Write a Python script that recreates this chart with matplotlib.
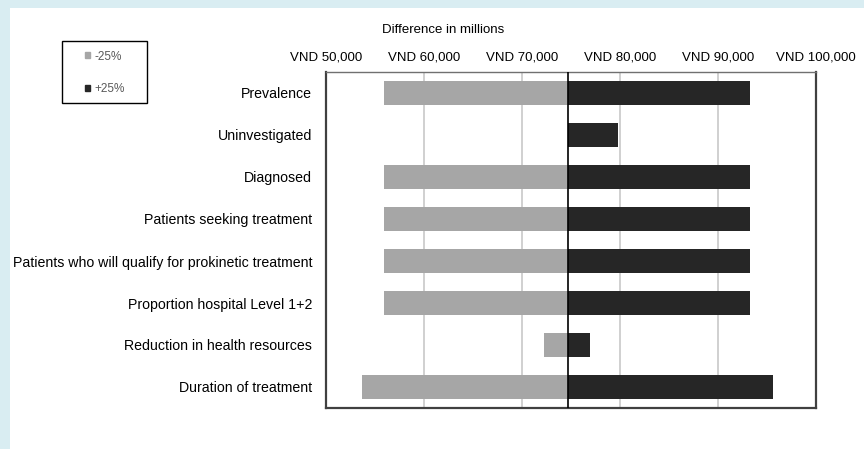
import matplotlib.pyplot as plt
from matplotlib.patches import Rectangle, Patch

# --- data ---
categories = [
    "Prevalence",
    "Uninvestigated",
    "Diagnosed",
    "Patients seeking treatment",
    "Patients who will qualify for prokinetic treatment",
    "Proportion hospital Level 1+2",
    "Reduction in health resources",
    "Duration of treatment",
]
base_value = 74660  # base case result
low_values = [55950, 74660, 55950, 55950, 55950, 55950, 72280, 53640]    # -25%
high_values = [93300, 79830, 93300, 93300, 93300, 93300, 76970, 95610]   # +25%
tick_values = [50000, 60000, 70000, 80000, 90000, 100000]
tick_labels = ["VND 50,000", "VND 60,000", "VND 70,000",
               "VND 80,000", "VND 90,000", "VND 100,000"]

gray = "#a6a6a6"
dark = "#262626"

plt.rcParams["font.family"] = ["Liberation Sans", "DejaVu Sans"]

fig = plt.figure(figsize=(8.64, 4.49), dpi=100)
fig.patch.set_facecolor("#d9edf2")
# white panel inside the light-blue frame (drawn below the axes)
fig.patches.append(Rectangle((10 / 864, 0), 1 - 10 / 864, 1 - 8 / 449,
                             transform=fig.transFigure, facecolor="white",
                             edgecolor="none", zorder=-5))

ax = fig.add_axes([326 / 864, 1 - 408 / 449, 490 / 864, 336 / 449])

y = list(range(len(categories)))
low_w = [base_value - v for v in low_values]
high_w = [v - base_value for v in high_values]
ax.barh(y, low_w, left=low_values, height=0.57, color=gray, zorder=2)
ax.barh(y, high_w, left=base_value, height=0.57, color=dark, zorder=2)
ax.axvline(base_value, color="black", lw=1.2, zorder=3)

ax.set_xlim(50000, 100000)
ax.set_ylim(len(categories) - 0.5, -0.5)
ax.set_yticks(y)
ax.set_yticklabels(categories, fontsize=10.2)
ax.tick_params(axis="y", length=0, pad=10)

ax.xaxis.tick_top()
ax.set_xticks(tick_values)
ax.set_xticklabels(tick_labels, fontsize=9.5)
ax.tick_params(axis="x", length=0, pad=6)
for v in tick_values[1:-1]:
    ax.axvline(v, color="#c8c8c8", lw=1.2, zorder=1)

for side in ["left", "bottom", "right"]:
    ax.spines[side].set_color("#404040")
    ax.spines[side].set_linewidth(1.6)
ax.spines["top"].set_color("#707070")
ax.spines["top"].set_linewidth(1.0)

fig.text(443 / 864, 1 - 30 / 449, "Difference in millions",
         ha="center", va="center", fontsize=9.5)

# legend box
fig.patches.append(Rectangle((62 / 864, 1 - 103 / 449), 85 / 864, 62 / 449,
                             transform=fig.transFigure, facecolor="white",
                             edgecolor="black", lw=1.0, zorder=1))
handles = [Patch(color=gray, label="-25%"), Patch(color=dark, label="+25%")]
fig.legend(handles=handles, loc="center", bbox_to_anchor=(105 / 864, 1 - 73 / 449),
           frameon=False, fontsize=8.5, handlelength=0.4, handleheight=0.4,
           handletextpad=0.4, labelspacing=1.75, labelcolor="#595959")

fig.savefig("out.png", dpi=100)
